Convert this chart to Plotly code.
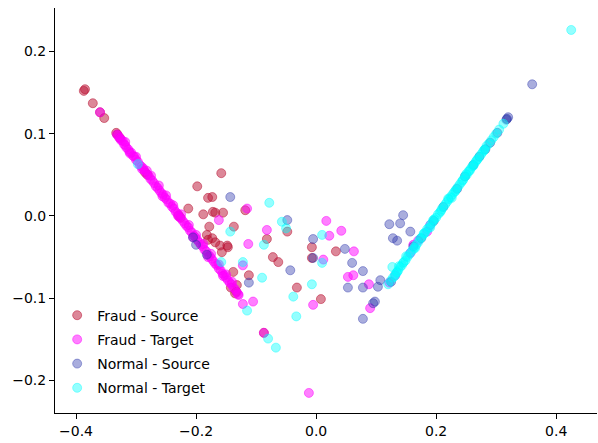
import plotly.graph_objects as go

# ---------------- data ----------------
series_names = ["Fraud - Source", "Fraud - Target", "Normal - Source", "Normal - Target"]

fraud_source_x = [-0.387, -0.385, -0.372, -0.360, -0.353, -0.333, -0.331, -0.327, -0.285, -0.281,
                  -0.229, -0.226, -0.142, -0.135, -0.133, -0.158, -0.198, -0.180, -0.173, -0.213,
                  -0.188, -0.172, -0.168, -0.155, -0.118, -0.178, -0.137, -0.182, -0.173, -0.180,
                  -0.168, -0.160, -0.148, -0.147, -0.157, -0.138, -0.112, -0.132, -0.082, -0.072,
                  -0.063, -0.048, -0.007, -0.007, 0.033, -0.032, 0.008, -0.087]
fraud_source_y = [0.152, 0.154, 0.137, 0.126, 0.119, 0.101, 0.099, 0.095, 0.053, 0.050,
                  0.001, -0.002, -0.087, -0.094, -0.092, 0.052, 0.036, 0.022, 0.023, 0.009,
                  0.002, 0.005, 0.004, 0.004, 0.007, -0.013, -0.013, -0.023, -0.027, -0.029,
                  -0.032, -0.036, -0.036, -0.038, -0.044, -0.068, -0.072, -0.084, -0.028, -0.050,
                  -0.056, -0.019, -0.038, -0.051, -0.043, -0.087, -0.101, -0.142]

fraud_target_x = [-0.360, -0.162, -0.113, -0.115, -0.082, -0.122, -0.130, -0.122, -0.105, -0.087,
                  0.017, 0.022, 0.042, 0.063, 0.053, 0.062, 0.088, -0.005, 0.090, -0.012, 0.012,
                  -0.332, -0.330, -0.328, -0.326, -0.325, -0.322, -0.320, -0.318, -0.316, -0.313,
                  -0.311, -0.308, -0.305, -0.303, -0.300, -0.297, -0.294, -0.291, -0.288, -0.286,
                  -0.282, -0.279, -0.276, -0.273, -0.270, -0.267, -0.264, -0.261, -0.258, -0.255,
                  -0.252, -0.249, -0.246, -0.243, -0.240, -0.237, -0.234, -0.231, -0.228, -0.225,
                  -0.222, -0.219, -0.216, -0.213, -0.210, -0.207, -0.204, -0.201, -0.198, -0.195,
                  -0.192, -0.189, -0.186, -0.183, -0.180, -0.177, -0.174, -0.171, -0.168, -0.165,
                  -0.162, -0.159, -0.156, -0.153, -0.150, -0.147, -0.144, -0.141, -0.138, -0.135,
                  -0.132, -0.129,
                  -0.318, -0.300, -0.290, -0.275, -0.262, -0.250, -0.238, -0.225, -0.212, -0.200,
                  -0.188, -0.175, -0.162, -0.150, -0.140, -0.310, -0.282, -0.256, -0.230, -0.205,
                  -0.180, -0.155,
                  0.122, 0.132, 0.157, 0.162, 0.170, 0.185, 0.190]
fraud_target_y = [0.126, -0.005, -0.034, 0.009, -0.017, -0.060, -0.095, -0.107, -0.104, -0.142,
                  -0.006, -0.024, -0.018, -0.043, -0.074, -0.072, -0.083, -0.108, -0.112, -0.215, -0.053,
                  0.099, 0.098, 0.095, 0.094, 0.092, 0.091, 0.087, 0.086, 0.083, 0.081,
                  0.078, 0.077, 0.073, 0.072, 0.068, 0.066, 0.062, 0.060, 0.058, 0.055,
                  0.051, 0.049, 0.045, 0.043, 0.040, 0.036, 0.034, 0.031, 0.028, 0.026,
                  0.022, 0.020, 0.016, 0.015, 0.011, 0.009, 0.005, 0.003, -0.001, -0.003,
                  -0.006, -0.009, -0.012, -0.014, -0.018, -0.020, -0.024, -0.026, -0.029, -0.032,
                  -0.035, -0.037, -0.041, -0.043, -0.047, -0.049, -0.052, -0.055, -0.058, -0.060,
                  -0.064, -0.066, -0.070, -0.072, -0.075, -0.078, -0.081, -0.083, -0.087, -0.089,
                  -0.093, -0.096,
                  0.090, 0.072, 0.057, 0.049, 0.037, 0.025, 0.013, 0.002, -0.011, -0.023,
                  -0.034, -0.046, -0.059, -0.071, -0.080, 0.076, 0.055, 0.024, 0.000, -0.026,
                  -0.050, -0.073,
                  -0.081, -0.072, -0.045, -0.035, -0.030, -0.019, -0.011]

normal_source_x = [-0.143, -0.205, -0.200, -0.182, -0.112, -0.048, -0.043, -0.005, -0.005, 0.048,
                   0.060, 0.078, 0.053, 0.078, 0.103, 0.107, 0.095, 0.098, 0.078, 0.145,
                   0.122, 0.140, 0.157, 0.128, 0.135, 0.360,
                   0.125, 0.162, 0.175, 0.196, 0.212, 0.235, 0.248, 0.262, 0.272, 0.282,
                   0.290, 0.302, 0.317, 0.320, 0.318]
normal_source_y = [0.023, -0.026, -0.035, -0.047, -0.081, -0.005, -0.066, -0.028, -0.051, -0.040,
                   -0.057, -0.067, -0.087, -0.087, -0.086, -0.078, -0.106, -0.104, -0.125, 0.001,
                   -0.010, -0.009, -0.019, -0.027, -0.030, 0.160,
                   -0.080, -0.037, -0.027, -0.006, 0.011, 0.033, 0.048, 0.062, 0.072, 0.081,
                   0.089, 0.101, 0.117, 0.120, 0.118]

normal_target_x = [-0.297, -0.078, -0.057, -0.050, -0.087, -0.090, -0.007, -0.038, 0.010, 0.010,
                   -0.143, -0.158, -0.122, -0.115, -0.080, -0.067, -0.033, 0.425, 0.127, 0.135, 0.145,
                   0.120, 0.124, 0.128, 0.131, 0.134, 0.137, 0.140, 0.143, 0.146, 0.149,
                   0.152, 0.155, 0.158, 0.161, 0.164, 0.167, 0.170, 0.173, 0.176, 0.179,
                   0.182, 0.185, 0.188, 0.191, 0.194, 0.197, 0.200, 0.203, 0.206, 0.209,
                   0.212, 0.215, 0.218, 0.221, 0.224, 0.227, 0.230, 0.233, 0.236, 0.239,
                   0.242, 0.245, 0.248, 0.251, 0.254, 0.257, 0.260, 0.263, 0.266, 0.269,
                   0.272, 0.275, 0.278, 0.281, 0.284, 0.288, 0.292, 0.296, 0.300, 0.305, 0.312,
                   0.150, 0.165, 0.180, 0.195, 0.208, 0.220, 0.232, 0.244, 0.256, 0.268,
                   0.280, 0.138, 0.132, 0.190, 0.226, 0.250, 0.262]
normal_target_y = [0.063, 0.016, -0.007, -0.015, -0.035, -0.075, -0.083, -0.098, -0.023, -0.057,
                   -0.019, -0.056, -0.056, -0.115, -0.149, -0.160, -0.122, 0.226, -0.062, -0.068, -0.057,
                   -0.083, -0.079, -0.075, -0.073, -0.069, -0.066, -0.062, -0.060, -0.056, -0.054,
                   -0.050, -0.047, -0.044, -0.041, -0.038, -0.035, -0.032, -0.028, -0.026, -0.022,
                   -0.020, -0.016, -0.014, -0.010, -0.008, -0.004, -0.002, 0.002, 0.004, 0.008,
                   0.011, 0.014, 0.017, 0.020, 0.023, 0.026, 0.029, 0.032, 0.035, 0.038,
                   0.041, 0.044, 0.048, 0.050, 0.054, 0.057, 0.060, 0.063, 0.066, 0.069,
                   0.072, 0.075, 0.078, 0.081, 0.085, 0.088, 0.092, 0.096, 0.100, 0.105, 0.112,
                   -0.049, -0.039, -0.021, -0.005, 0.006, 0.021, 0.030, 0.043, 0.055, 0.068,
                   0.080, -0.061, -0.071, -0.014, 0.022, 0.051, 0.061]

x_ticks = [-0.4, -0.2, 0.0, 0.2, 0.4]
y_ticks = [-0.2, -0.1, 0.0, 0.1, 0.2]

# ---------------- styling ----------------
colors = ["rgba(185,15,50,0.5)", "rgba(255,0,255,0.5)",
          "rgba(40,50,170,0.4)", "rgba(0,255,255,0.42)"]

xs = [fraud_source_x, fraud_target_x, normal_source_x, normal_target_x]
ys = [fraud_source_y, fraud_target_y, normal_source_y, normal_target_y]

fig = go.Figure()
for i, name in enumerate(series_names):
    fig.add_trace(go.Scatter(
        x=xs[i], y=ys[i], mode="markers", name=name, legendgroup=name,
        marker=dict(size=9, color=colors[i], line=dict(color=colors[i], width=1)),
    ))

font = dict(family="DejaVu Sans", size=14, color="black")
axis_common = dict(showgrid=False, zeroline=False, showline=True, linecolor="black",
                   linewidth=1, ticks="outside", ticklen=5, tickwidth=1, tickcolor="black",
                   tickfont=font, tickformat=".1f", mirror=False)

fig.update_layout(
    width=598, height=443,
    margin=dict(l=55, r=1, t=8, b=30),
    paper_bgcolor="white", plot_bgcolor="white",
    font=font,
    showlegend=True,
    legend=dict(x=0.004, y=0.28, xanchor="left", yanchor="top",
                bgcolor="rgba(0,0,0,0)", borderwidth=0, tracegroupgap=3,
                font=font),
    xaxis=dict(range=[-0.435, 0.468], tickvals=x_ticks, **axis_common),
    yaxis=dict(range=[-0.2394, 0.2527], tickvals=y_ticks, **axis_common),
)

fig.write_html("out.html", config={"displayModeBar": False},
               post_script="document.body.style.margin='0';document.body.style.overflow='hidden';")
